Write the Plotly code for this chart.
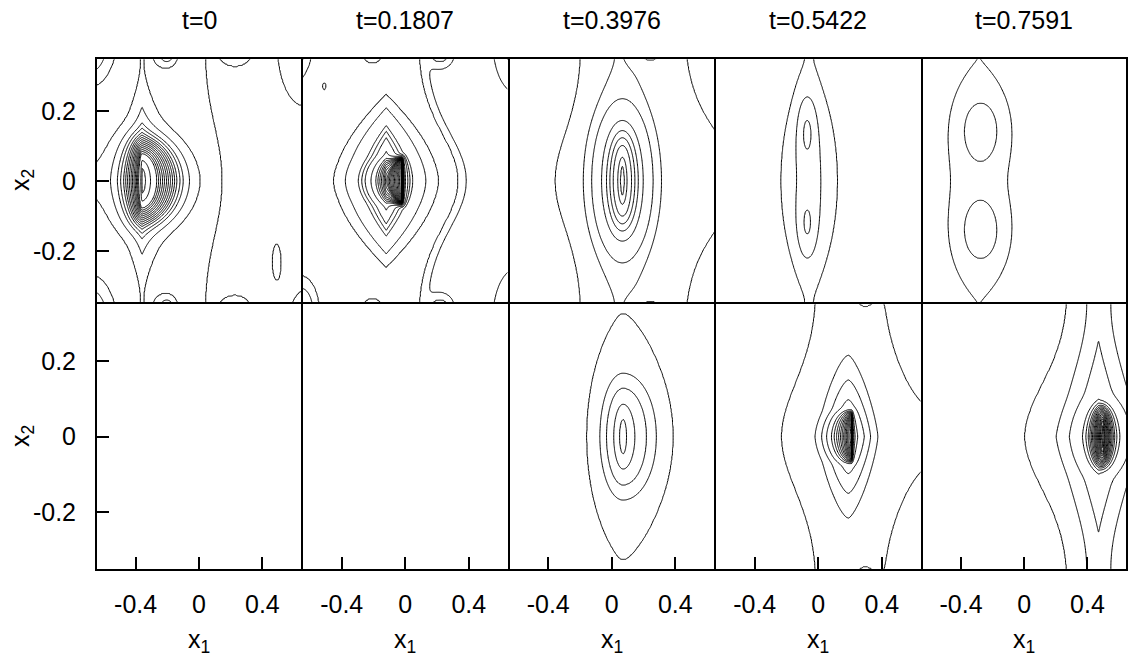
import numpy as np
import plotly.graph_objects as go

# ---------------- text / axes data ----------------
TITLES = ["t=0", "t=0.1807", "t=0.3976", "t=0.5422", "t=0.7591"]
X_TICKS = [-0.4, 0, 0.4]
X_TICK_TEXT = ["-0.4", "0", "0.4"]
Y_TICKS = [-0.2, 0, 0.2]
Y_TICK_TEXT = ["-0.2", "0", "0.2"]
X_RANGE = [-0.644, 0.644]
Y_RANGE_TOP = [-0.347, 0.347]
Y_RANGE_BOTTOM = [-0.352, 0.352]
Y_PERIOD = 0.7

# ---------------- field data ----------------
# elliptic packets: amp, x0, y0, lx_left, a_left, lx_right, a_right, ly, a_y
#   (ring of "radius" c has half-widths lx*c**a and half-height ly*c**a_y)
# additive packets: amp, x0, y0, lx_left, p_left, lx_right, p_right, ly, py
# lorentzian halos: amp, x0, y0, lx_left, lx_right, ly, power
# steps:  height, x_mid, bulge, bulge_width, edge_width, side(+1 high on right)
# level points: one point (x, y) lying on each drawn contour
# bumps:  x0, y0, lx, ly, amplitude relative to the lowest level

P1_ELL = [(1.00, -0.36, 0.0, 0.0182, 2.0, 0.10, 1.0, 0.076, 0.514)]
P1_ADD = [(0.20, -0.36, 0.0, 0.12, 1.0, 0.15, 1.0, 0.205, 1.45)]
P1_LOR = []
P1_STEPS = [(0.065, 0.02, 0.13, 0.20, 0.03, 1)]
P1_LEVEL_X = [-0.3375, -0.306, -0.266, -0.255, -0.243, -0.23, -0.218, -0.205, -0.193,
              -0.18, -0.167, -0.154, -0.14, -0.12, -0.10, -0.06, 0.006]
P1_LEVEL_Y = [0.0] * 17
P1_BUMPS = [(-0.75, 0.0, 0.12, 0.14, 0.6),
            (-0.20, 0.36, 0.07, 0.035, 1.9), (-0.20, -0.36, 0.07, 0.035, 1.9),
            (0.225, 0.365, 0.09, 0.035, -1.8), (0.225, -0.365, 0.09, 0.035, -1.8),
            (-0.70, 0.40, 0.15, 0.12, 3.0), (-0.70, -0.40, 0.15, 0.12, 3.0),
            (0.49, -0.23, 0.048, 0.084, -0.7), (0.66, 0.40, 0.20, 0.22, -1.0),
            (0.70, -0.40, 0.14, 0.10, -1.2)]

P2_ELL = [(1.00, -0.02, 0.0, 0.06, 1.0, 0.0026, 2.0, 0.06, 0.15)]
P2_ADD = [(0.22, -0.12, 0.0, 0.15, 1.0, 0.15, 1.0, 0.155, 1.7)]
P2_LOR = []
P2_STEPS = [(0.05, 0.08, 0.28, 0.2, 0.03, 1)]
P2_LEVEL_X = [-0.028, -0.036, -0.044, -0.052, -0.060, -0.068, -0.076, -0.084, -0.092,
              -0.100, -0.108, -0.116, -0.124, -0.132, -0.140, -0.150, -0.160, -0.172,
              -0.185, -0.216, -0.253, -0.274, -0.295, -0.378, -0.45]
P2_LEVEL_Y = [0.0] * 25
P2_BUMPS = [(-0.51, 0.27, 0.012, 0.01, 1.5), (-0.21, 0.37, 0.07, 0.035, 1.9),
            (-0.21, -0.37, 0.07, 0.035, 1.9), (0.22, 0.365, 0.07, 0.035, -1.8),
            (0.22, -0.365, 0.07, 0.035, -1.8), (0.70, 0.40, 0.12, 0.12, -1.5),
            (0.70, -0.40, 0.12, 0.12, -1.5), (-0.66, -0.37, 0.12, 0.10, 2.5),
            (-0.70, 0.40, 0.12, 0.12, 2.5), (-0.75, 0.0, 0.12, 0.14, 0.6)]

P3_ELL = [(1.00, 0.067, 0.0, 0.075, 1.0, 0.075, 1.0, 0.119, 0.556)]
P3_ADD = []
P3_LOR = [(0.30, 0.067, 0.0, 0.10, 0.10, 0.155, 1.0)]
P3_STEPS = [(0.04, -0.11, -0.245, 0.2, 0.03, 1)]
P3_LEVEL_X = [0.0795, 0.096, 0.125, 0.146, 0.167, 0.198, 0.261, 0.313, -0.355]
P3_LEVEL_Y = [0.0] * 9
P3_BUMPS = [(0.70, 0.40, 0.2, 0.16, -1.2), (0.70, -0.40, 0.2, 0.16, -1.2),
            (0.225, 0.365, 0.09, 0.035, -1.6), (0.225, -0.365, 0.09, 0.035, -1.6)]

P4_ELL = []
P4_ADD = [(0.60, -0.07, 0.14, 0.05, 2.0, 0.05, 2.0, 0.085, 2.0),
          (0.55, -0.07, -0.125, 0.05, 2.0, 0.05, 2.0, 0.08, 2.0),
          (0.50, -0.057, 0.0, 0.20, 2.0, 0.20, 2.0, 0.29, 2.0)]
P4_LOR = []
P4_STEPS = []
P4_LEVEL_X = [-0.046, 0.017, 0.12]
P4_LEVEL_Y = [0.14, 0.0, 0.0]
P4_BUMPS = []

P5_ELL = []
P5_ADD = [(1.00, -0.274, 0.145, 0.12, 2.0, 0.12, 2.0, 0.09, 2.0),
          (1.00, -0.274, -0.145, 0.12, 2.0, 0.12, 2.0, 0.09, 2.0),
          (0.30, -0.29, 0.0, 0.20, 2.0, 0.20, 2.0, 0.29, 2.0)]
P5_LOR = []
P5_STEPS = []
P5_LEVEL_X = [-0.173, -0.106]
P5_LEVEL_Y = [0.145, 0.0]
P5_BUMPS = []

P8_ELL = [(1.00, 0.072, 0.0, 0.051, 0.76, 0.06, 1.0, 0.081, 0.51)]
P8_ADD = []
P8_LOR = [(0.30, 0.07, 0.0, 0.106, 0.14, 0.1225, 1.0)]
P8_STEPS = []
P8_LEVEL_X = [0.094, 0.146, 0.219, 0.281, 0.385]
P8_LEVEL_Y = [0.0] * 5
P8_BUMPS = []

P9_ELL = [(1.00, 0.21, 0.0, 0.05, 1.0, 0.0026, 2.0, 0.06, 0.15)]
P9_ADD = [(0.25, 0.19, 0.0, 0.15, 1.5, 0.15, 1.5, 0.16, 1.3)]
P9_LOR = []
P9_STEPS = [(0.05, 0.0, -0.23, 0.2, 0.03, 1)]
P9_LEVEL_X = [0.200, 0.192, 0.184, 0.176, 0.168, 0.160, 0.150, 0.140, 0.128, 0.115,
              0.100, 0.083, 0.052, 0.021, -0.02, -0.23]
P9_LEVEL_Y = [0.0] * 16
P9_BUMPS = [(0.27, 0.365, 0.08, 0.035, -1.6), (0.27, -0.365, 0.08, 0.035, -1.6),
            (0.72, 0.42, 0.32, 0.30, -2.5), (0.72, -0.42, 0.32, 0.30, -2.5)]

P10_ELL = [(1.00, 0.494, 0.0, 0.05, 1.0, 0.05, 1.0, 0.07, 0.3)]
P10_ADD = [(0.25, 0.47, 0.0, 0.14, 1.0, 0.14, 1.0, 0.20, 1.2)]
P10_LOR = []
P10_STEPS = [(0.04, 0.30, -0.30, 0.2, 0.03, 1)]
P10_LEVEL_X = [0.488, 0.482, 0.476, 0.470, 0.464, 0.458, 0.452, 0.446, 0.440, 0.432,
               0.424, 0.415, 0.405, 0.390, 0.369, 0.285, 0.202, 0.004]
P10_LEVEL_Y = [0.0] * 18
P10_BUMPS = []

PANELS = {
    (0, 0): (P1_ELL, P1_ADD, P1_LOR, P1_STEPS, P1_LEVEL_X, P1_LEVEL_Y, P1_BUMPS),
    (0, 1): (P2_ELL, P2_ADD, P2_LOR, P2_STEPS, P2_LEVEL_X, P2_LEVEL_Y, P2_BUMPS),
    (0, 2): (P3_ELL, P3_ADD, P3_LOR, P3_STEPS, P3_LEVEL_X, P3_LEVEL_Y, P3_BUMPS),
    (0, 3): (P4_ELL, P4_ADD, P4_LOR, P4_STEPS, P4_LEVEL_X, P4_LEVEL_Y, P4_BUMPS),
    (0, 4): (P5_ELL, P5_ADD, P5_LOR, P5_STEPS, P5_LEVEL_X, P5_LEVEL_Y, P5_BUMPS),
    (1, 2): (P8_ELL, P8_ADD, P8_LOR, P8_STEPS, P8_LEVEL_X, P8_LEVEL_Y, P8_BUMPS),
    (1, 3): (P9_ELL, P9_ADD, P9_LOR, P9_STEPS, P9_LEVEL_X, P9_LEVEL_Y, P9_BUMPS),
    (1, 4): (P10_ELL, P10_ADD, P10_LOR, P10_STEPS, P10_LEVEL_X, P10_LEVEL_Y, P10_BUMPS),
}


def ell_radius(DX, DY, lxl, al, lxr, ar, ly, ay):
    lx = np.where(DX < 0, lxl, lxr)
    a = np.where(DX < 0, al, ar)
    ax = np.abs(DX)
    ayv = np.abs(DY)
    lo = np.full(np.shape(DX), -14.0)
    hi = np.full(np.shape(DX), 6.0)
    for _ in range(48):
        mid = 0.5 * (lo + hi)
        val = (ax / (lx * np.exp(a * mid))) ** 2 + (ayv / (ly * np.exp(ay * mid))) ** 2
        big = val > 1.0
        lo = np.where(big, mid, lo)
        hi = np.where(big, hi, mid)
    return np.exp(0.5 * (lo + hi))


def field(X, Y, ell, add, lor, steps):
    F = np.zeros(np.shape(X), dtype=float)
    for k in (-1, 0, 1):
        for amp, x0, y0, lxl, al, lxr, ar, ly, ay in ell:
            c = ell_radius(X - x0, Y - (y0 + k * Y_PERIOD), lxl, al, lxr, ar, ly, ay)
            F = F + amp * np.exp(-c)
        for amp, x0, y0, lxl, pl, lxr, pr, ly, py in add:
            dx = X - x0
            U = np.where(dx < 0, (np.abs(dx) / lxl) ** pl, (np.abs(dx) / lxr) ** pr)
            V = (np.abs(Y - (y0 + k * Y_PERIOD)) / ly) ** py
            F = F + amp * np.exp(-(U + V))
        for amp, x0, y0, lxl, lxr, ly, pw in lor:
            dx = X - x0
            lx = np.where(dx < 0, lxl, lxr)
            dy = Y - (y0 + k * Y_PERIOD)
            F = F + amp * (1.0 + (dx / lx) ** 2 + (dy / ly) ** 2) ** (-pw)
    for c, xm, bulge, bw, w, side in steps:
        xw = xm + bulge * np.exp(-(Y / bw) ** 2)
        F = F + c / (1.0 + np.exp(-side * (X - xw) / w))
    return F


# ---------------- layout geometry (pixels) ----------------
W, H = 1135, 663
COL_EDGES = [96, 302, 508.5, 715, 921.5, 1127]
ROW_EDGES = [(58.3, 303.3), (303.3, 570.0)]


def px_x(v):
    return v / W


def px_y(v):
    return 1 - v / H


FONT = dict(family="Liberation Sans, Arial, sans-serif", size=25, color="black")
fig = go.Figure()
layout = dict(width=W, height=H, margin=dict(l=0, r=0, t=0, b=0),
              paper_bgcolor="white", plot_bgcolor="white", showlegend=False, font=FONT)

for row in range(2):
    for col in range(5):
        idx = row * 5 + col + 1
        sfx = "" if idx == 1 else str(idx)
        x0p, x1p = COL_EDGES[col], COL_EDGES[col + 1]
        y0p, y1p = ROW_EDGES[row]
        yr = Y_RANGE_TOP if row == 0 else Y_RANGE_BOTTOM
        layout["xaxis" + sfx] = dict(
            domain=[px_x(x0p + 1), px_x(x1p - 1)], range=X_RANGE, anchor="y" + sfx,
            showline=True, mirror=True, linecolor="black", linewidth=2,
            showgrid=False, zeroline=False,
            ticks="inside" if row == 1 else "", ticklen=12, tickwidth=1.5, tickcolor="black",
            tickvals=X_TICKS, ticktext=X_TICK_TEXT, showticklabels=(row == 1),
            tickfont=FONT, ticklabelstandoff=12)
        layout["yaxis" + sfx] = dict(
            domain=[px_y(y1p - 1), px_y(y0p + 1)], range=yr, anchor="x" + sfx,
            showline=True, mirror=True, linecolor="black", linewidth=2,
            showgrid=False, zeroline=False,
            ticks="inside" if col == 0 else "", ticklen=12, tickwidth=1.5, tickcolor="black",
            tickvals=Y_TICKS, ticktext=Y_TICK_TEXT, showticklabels=(col == 0),
            tickfont=FONT, ticklabelstandoff=14)

        if (row, col) in PANELS:
            ell, add, lor, steps, lx, ly, bumps = PANELS[(row, col)]
            xs = np.linspace(X_RANGE[0] - 0.002, X_RANGE[1] + 0.002, 320)
            ys = np.linspace(yr[0] - 0.002, yr[1] + 0.002, 180)
            X, Y = np.meshgrid(xs, ys)
            F = field(X, Y, ell, add, lor, steps)
            lev = field(np.array(lx, dtype=float), np.array(ly, dtype=float),
                        ell, add, lor, steps)
            lev = np.unique(np.round(lev, 12))
            lmin = lev.min()
            for bx, by, blx, bly, rel in bumps:
                F = F + rel * lmin * np.exp(-((X - bx) / blx) ** 2 - ((Y - by) / bly) ** 2)
            n = len(lev)
            G = np.interp(F, np.concatenate([[min(F.min(), lev[0]) - 1.0], lev,
                                             [max(F.max(), lev[-1]) + 1.0]]),
                          np.concatenate([[-1.0], np.arange(n, dtype=float), [float(n)]]))
            fig.add_trace(go.Contour(
                x=np.round(xs, 5), y=np.round(ys, 5), z=np.round(G, 4),
                contours=dict(start=0, end=n - 1, size=1, coloring="none"),
                line=dict(color="black", width=1, smoothing=0.8),
                showscale=False, hoverinfo="skip",
                xaxis="x" + sfx, yaxis="y" + sfx))
        else:
            fig.add_trace(go.Scatter(x=[None], y=[None], mode="markers",
                                     xaxis="x" + sfx, yaxis="y" + sfx, hoverinfo="skip"))

annotations = []
for col in range(5):
    cx = (COL_EDGES[col] + COL_EDGES[col + 1]) / 2
    annotations.append(dict(text=TITLES[col], x=px_x(cx), y=px_y(20), xref="paper", yref="paper",
                            showarrow=False, xanchor="center", yanchor="middle", font=FONT))
    annotations.append(dict(text="x<sub>1</sub>", x=px_x(cx), y=px_y(641), xref="paper",
                            yref="paper", showarrow=False, xanchor="center", yanchor="middle",
                            font=FONT))
for row in range(2):
    cy = 180 if row == 0 else 436
    annotations.append(dict(text="x<sub>2</sub>", x=px_x(22), y=px_y(cy), xref="paper",
                            yref="paper", showarrow=False, xanchor="center", yanchor="middle",
                            textangle=-90, font=FONT))
layout["annotations"] = annotations
fig.update_layout(**layout)
fig.write_html("out.html", config={"displayModeBar": False},
               post_script="document.body.style.margin='0px';")
